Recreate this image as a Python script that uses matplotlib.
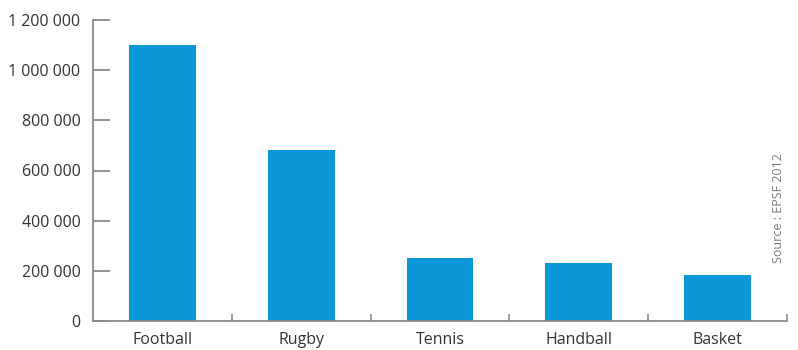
import matplotlib
matplotlib.use("Agg")
import matplotlib.pyplot as plt
from matplotlib.ticker import FuncFormatter, FixedLocator

categories = ["Football", "Rugby", "Tennis", "Handball", "Basket"]
licencies = [1100000, 682000, 251000, 231000, 183000]
yticks = [0, 200000, 400000, 600000, 800000, 1000000, 1200000]
source = "Source : EPSF 2012"

bar_color = "#0a98d8"
axis_color = "#8a8a8a"
text_color = "#333333"

plt.rcParams['font.family'] = ['Open Sans', 'DejaVu Sans']

fig = plt.figure(figsize=(7.98, 3.5), dpi=100)
ax = fig.add_axes([93/798, 29/350, (787-93)/798, (321-20)/350])

x = list(range(len(categories)))
ax.bar(x, licencies, width=0.48, color=bar_color, zorder=2)

ax.set_xlim(-0.5, len(categories) - 0.5)
ax.set_ylim(0, 1200000)

for s in ["top", "right"]:
    ax.spines[s].set_visible(False)
for s in ["left", "bottom"]:
    ax.spines[s].set_color(axis_color)
    ax.spines[s].set_linewidth(1.3)

ax.set_yticks(yticks)
ax.yaxis.set_major_formatter(FuncFormatter(lambda v, p: f"{int(v):,}".replace(",", " ")))
ax.tick_params(axis="y", direction="in", length=12, width=1.3, color=axis_color,
               labelsize=11.5, labelcolor=text_color, pad=9)

ax.set_xticks(x)
ax.set_xticklabels(categories)
ax.tick_params(axis="x", which="major", length=0, labelsize=11.5, labelcolor=text_color, pad=8)
ax.xaxis.set_minor_locator(FixedLocator([i + 0.5 for i in range(len(categories))]))
ax.tick_params(axis="x", which="minor", direction="in", length=5, width=1.2, color=axis_color)

fig.text(778/798, 1 - 208/350, source, rotation=90, ha="center", va="center",
         fontsize=9, color="#7a7a7a")

fig.savefig("out.png", dpi=100)
